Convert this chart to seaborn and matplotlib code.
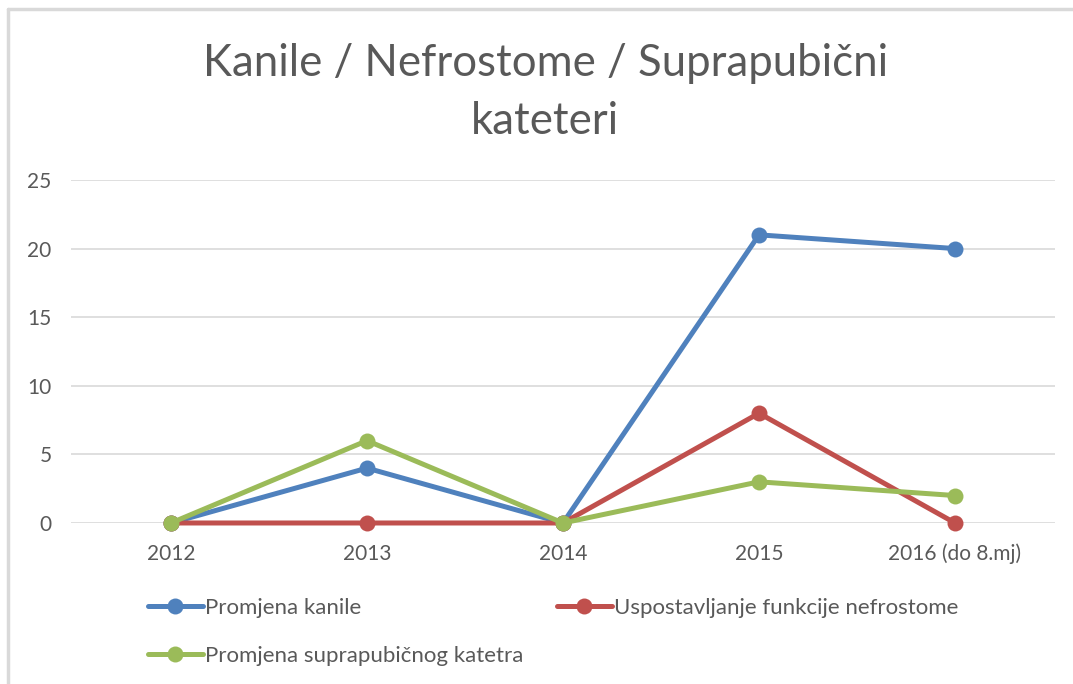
import numpy as np
import pandas as pd
import matplotlib
matplotlib.use('Agg')
import matplotlib.pyplot as plt
from matplotlib.lines import Line2D
import seaborn as sns

years = ["2012", "2013", "2014", "2015", "2016 (do 8.mj)"]
kanile = [0, 4, 0, 21, 20]
nefrostome = [0, 0, 0, 8, 0]
suprapubicni = [0, 6, 0, 3, 2]
series_names = ["Promjena kanile",
                "Uspostavljanje funkcije nefrostome",
                "Promjena suprapubičnog katetra"]
colors = ["#4F81BD", "#C0504D", "#9BBB59"]

rows = []
for name, vals in zip(series_names, [kanile, nefrostome, suprapubicni]):
    for y, v in zip(years, vals):
        rows.append({"year": y, "value": v, "series": name})
df = pd.DataFrame(rows)

sns.set_theme(style="white")
plt.rcParams['font.family'] = ['Lato', 'DejaVu Sans']
gray = "#595959"

fig = plt.figure(figsize=(10.73, 6.84), dpi=100)
ax = fig.add_axes([0.0662, 0.2354, 0.917, 0.5015])

sns.lineplot(data=df, x="year", y="value", hue="series", palette=colors,
             marker="o", markersize=11.5, markeredgewidth=0, linewidth=3.6,
             sort=False, ax=ax, legend=False)

ax.set_xlim(-0.51, 4.51)
ax.set_ylim(0, 25)
ax.set_yticks([0, 5, 10, 15, 20, 25])
ax.yaxis.grid(True, color="#d9d9d9", linewidth=1.2)
ax.set_axisbelow(True)
for s in ax.spines.values():
    s.set_visible(False)
ax.set_xlabel("")
ax.set_ylabel("")
ax.tick_params(axis="both", length=0, labelsize=15, labelcolor=gray)
ax.tick_params(axis="y", pad=14)
ax.tick_params(axis="x", pad=15)
for line in ax.lines:
    line.set_clip_on(False)

fig.suptitle("Kanile / Nefrostome / Suprapubični\nkateteri", fontsize=31.5,
             color=gray, x=0.508, y=0.937, linespacing=1.5)

handles = [Line2D([], [], color=c, marker="o", markersize=11.5,
                  markeredgewidth=0, linewidth=3.6) for c in colors]
leg_kw = dict(frameon=False, fontsize=16, handlelength=2.5,
              handletextpad=0.1, labelcolor=gray, loc="center left")
fig.legend(handles[:1], series_names[:1], bbox_to_anchor=(0.119, 0.111), **leg_kw)
fig.legend(handles[1:2], series_names[1:2], bbox_to_anchor=(0.500, 0.111), **leg_kw)
fig.legend(handles[2:], series_names[2:], bbox_to_anchor=(0.119, 0.041), **leg_kw)

# chart frame (top and left edges visible in the screenshot)
fig.add_artist(Line2D([8 / 1073, 1], [1 - 9 / 684, 1 - 9 / 684],
                      transform=fig.transFigure, color="#d9d9d9", linewidth=2.5))
fig.add_artist(Line2D([8 / 1073, 8 / 1073], [0, 1 - 9 / 684],
                      transform=fig.transFigure, color="#d9d9d9", linewidth=2.5))

fig.savefig("out.png", dpi=100)
